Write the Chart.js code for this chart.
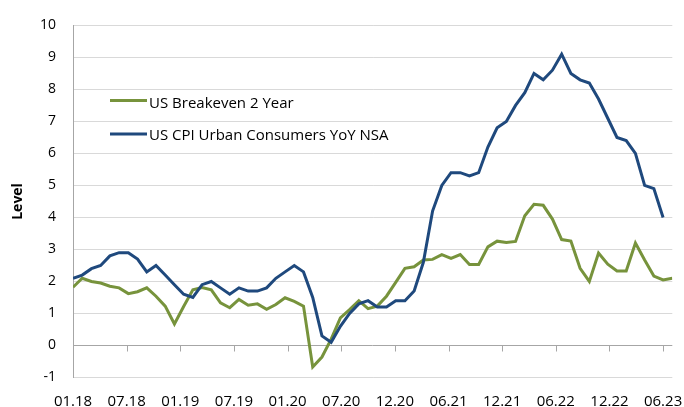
<!DOCTYPE html>
<html><head><meta charset="utf-8">
<script src="https://cdn.jsdelivr.net/npm/chart.js@4.4.0/dist/chart.umd.min.js"></script>
<style>html,body{margin:0;padding:0;background:#fff;}canvas{display:block;}</style>
</head><body>
<div style="width:684px;height:407px;position:relative"><canvas id="c" width="684" height="407"></canvas></div>
<script>
const months = [
 '2018-01','2018-02','2018-03','2018-04','2018-05','2018-06','2018-07','2018-08','2018-09','2018-10','2018-11','2018-12',
 '2019-01','2019-02','2019-03','2019-04','2019-05','2019-06','2019-07','2019-08','2019-09','2019-10','2019-11','2019-12',
 '2020-01','2020-02','2020-03','2020-04','2020-05','2020-06','2020-07','2020-08','2020-09','2020-10','2020-11','2020-12',
 '2021-01','2021-02','2021-03','2021-04','2021-05','2021-06','2021-07','2021-08','2021-09','2021-10','2021-11','2021-12',
 '2022-01','2022-02','2022-03','2022-04','2022-05','2022-06','2022-07','2022-08','2022-09','2022-10','2022-11','2022-12',
 '2023-01','2023-02','2023-03','2023-04','2023-05','2023-06'];
const breakeven2y = [
 1.82,2.10,2.00,1.95,1.85,1.80,1.62,1.68,1.80,1.54,1.23,0.67,
 1.22,1.74,1.81,1.74,1.33,1.18,1.44,1.26,1.30,1.13,1.28,1.49,
 1.38,1.23,-0.67,-0.36,0.20,0.86,1.12,1.40,1.15,1.23,1.54,1.97,
 2.41,2.46,2.67,2.69,2.84,2.72,2.84,2.53,2.53,3.08,3.26,3.22,
 3.25,4.05,4.41,4.38,3.95,3.31,3.26,2.41,2.00,2.89,2.54,2.33,
 2.33,3.20,2.67,2.17,2.05,2.10];
const cpiYoY = [
 2.1,2.2,2.4,2.5,2.8,2.9,2.9,2.7,2.3,2.5,2.2,1.9,
 1.6,1.5,1.9,2.0,1.8,1.6,1.8,1.7,1.7,1.8,2.1,2.3,
 2.5,2.3,1.5,0.3,0.1,0.6,1.0,1.3,1.4,1.2,1.2,1.4,
 1.4,1.7,2.6,4.2,5.0,5.4,5.4,5.3,5.4,6.2,6.8,7.0,
 7.5,7.9,8.5,8.3,8.6,9.1,8.5,8.3,8.2,7.7,7.1,6.5,
 6.4,6.0,5.0,4.9,4.0,null];
const tickLabels = ['01.18','07.18','01.19','07.19','01.20','07.20','12.20','06.21','12.21','06.22','12.22','06.23'];
const seriesNames = ['US Breakeven 2 Year','US CPI Urban Consumers YoY NSA'];
const GREEN = '#77933C', BLUE = '#1F497D';

Chart.defaults.font.family = "'Open Sans', sans-serif";
Chart.defaults.color = '#000';

const toPts = arr => arr.map((v,i)=>({x:i,y:v}));
const lastCpi = cpiYoY.filter(v=>v!==null).length - 1;
const tickVals = tickLabels.map((_,k)=> k*lastCpi/(tickLabels.length-1));

const extras = {
  id:'extras',
  beforeDatasetsDraw(chart){
    const {ctx, chartArea:a, scales:{x,y}} = chart;
    const y0 = Math.round(y.getPixelForValue(0))+0.5;
    ctx.save();
    ctx.strokeStyle = '#a6a6a6'; ctx.lineWidth = 1;
    ctx.beginPath();
    ctx.moveTo(a.left, y0); ctx.lineTo(a.right, y0);
    x.ticks.forEach(t=>{
      const px = Math.round(x.getPixelForValue(t.value))+0.5;
      ctx.moveTo(px, y0); ctx.lineTo(px, y0+6);
    });
    ctx.stroke();
    ctx.restore();
  },
  afterDraw(chart){
    const {ctx} = chart;
    const rows = [{y:100.5, base:107.5}, {y:134, base:139.5}];
    ctx.save();
    chart.data.datasets.forEach((ds,i)=>{
      const r = rows[ds.legendIndex];
      ctx.strokeStyle = ds.borderColor; ctx.lineWidth = 3;
      ctx.beginPath(); ctx.moveTo(110, r.y); ctx.lineTo(147, r.y); ctx.stroke();
      ctx.fillStyle = '#000';
      ctx.font = "15px 'Open Sans', sans-serif";
      ctx.textBaseline = 'alphabetic'; ctx.textAlign = 'left';
      ctx.fillText(ds.label, 149, r.base);
    });
    ctx.restore();
  }
};

new Chart(document.getElementById('c'), {
  type:'line',
  data:{datasets:[
    {label:seriesNames[0], data:toPts(breakeven2y), borderColor:GREEN, borderWidth:3, pointRadius:0, tension:0, order:1, legendIndex:0},
    {label:seriesNames[1], data:toPts(cpiYoY), borderColor:BLUE, borderWidth:3, pointRadius:0, tension:0, order:0, legendIndex:1, spanGaps:false}
  ]},
  options:{
    responsive:false, animation:false, devicePixelRatio:1,
    layout:{padding:{top:20, right:11.7, bottom:0, left:0}},
    plugins:{legend:{display:false}, tooltip:{enabled:false}},
    scales:{
      x:{type:'linear', min:0, max:months.length-1,
        grid:{display:false}, border:{display:false},
        afterBuildTicks(s){ s.ticks = tickVals.map(v=>({value:v})); },
        afterFit(s){ s.height = 29.5; s.paddingLeft = 0; s.paddingRight = 0; },
        ticks:{autoSkip:false, maxRotation:0, padding:7.5, font:{size:15},
          callback:(v,i)=>tickLabels[i]}
      },
      y:{min:-1, max:10,
        afterFit(s){ s.width = 73; },
        grid:{drawTicks:false, color:c=> c.tick && c.tick.value===0 ? 'rgba(0,0,0,0)' : '#d9d9d9', lineWidth:1},
        border:{display:true, color:'#a6a6a6', width:1},
        ticks:{stepSize:1, padding:17, font:{size:14}},
        title:{display:true, text:'Level', font:{size:14, weight:'bold'}, padding:{top:10, bottom:0}}
      }
    }
  },
  plugins:[extras]
});
</script>
</body></html>
